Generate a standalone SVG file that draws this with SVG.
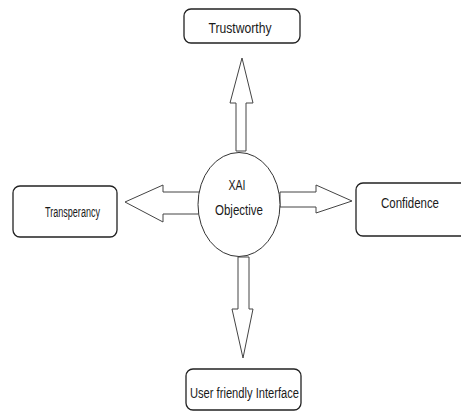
<svg xmlns="http://www.w3.org/2000/svg" width="461" height="414" viewBox="0 0 461 414">
<style>
.box{fill:#fff;stroke:#222;stroke-width:1.3}
.arr{fill:#fff;stroke:#444;stroke-width:1}
.t{font-family:"Liberation Sans",Arial,sans-serif;font-size:14px;fill:#1a1a1a;text-anchor:middle;dominant-baseline:central}
</style>
<rect width="461" height="414" fill="#fff"/>
<g id="connectors">
<polygon class="arr" points="236,151 246,151 246,103 253,103 242,58 230,103 236,103"/>
<polygon class="arr" points="200,192 200,214 163,214 163,222 125,202 163,185 163,192"/>
<polygon class="arr" points="280,192 280,207 316,207 316,213 352,201 316,185 316,192"/>
<polygon class="arr" points="238,257 249,257 249,309 253,309 243,358 232,309 238,309"/>
</g>
<g id="center">
<ellipse cx="239" cy="204.5" rx="41" ry="52" fill="#fff" stroke="#333" stroke-width="1"/>
<text class="t" x="237" y="185" textLength="17" lengthAdjust="spacingAndGlyphs">XAI</text>
<text class="t" x="239" y="210" textLength="48" lengthAdjust="spacingAndGlyphs">Objective</text>
</g>
<g id="trustworthy">
<rect class="box" x="184" y="9" width="116" height="34" rx="7"/>
<text class="t" x="240" y="28" textLength="63" lengthAdjust="spacingAndGlyphs">Trustworthy</text>
</g>
<g id="transperancy">
<rect class="box" x="13" y="186" width="104" height="51" rx="7"/>
<text class="t" x="72.5" y="212" textLength="55" lengthAdjust="spacingAndGlyphs">Transperancy</text>
</g>
<g id="confidence">
<rect class="box" x="356" y="183" width="112" height="53" rx="7"/>
<text class="t" x="410" y="203" textLength="58" lengthAdjust="spacingAndGlyphs">Confidence</text>
</g>
<g id="user">
<rect class="box" x="186" y="369" width="115" height="41" rx="7"/>
<text class="t" x="244.5" y="393" textLength="109" lengthAdjust="spacingAndGlyphs">User friendly Interface</text>
</g>
</svg>
